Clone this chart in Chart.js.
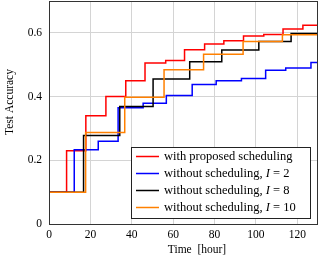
<!DOCTYPE html>
<html>
<head>
<meta charset="utf-8">
<script src="https://cdn.jsdelivr.net/npm/chart.js@4/dist/chart.umd.min.js"></script>
<style>
  html, body { margin: 0; padding: 0; background: #fff; }
  canvas { display: block; }
</style>
</head>
<body>
<canvas id="accChart" width="319" height="263"></canvas>
<script>
// step start times (hours) and accuracy reached at that time
const redTime = [0, 8.5, 17.8, 27.5, 37.1, 46.4, 56.4, 65.5, 75.2, 84.5, 94, 103.8, 113.1, 122.7, 130];
const redAcc = [0.1, 0.23, 0.34, 0.40, 0.45, 0.505, 0.513, 0.547, 0.565, 0.575, 0.59, 0.595, 0.612, 0.624, 0.624];

const blueTime = [0, 12.2, 23.8, 33.4, 45.5, 56.7, 69.2, 80.8, 93, 104.7, 114.4, 126.6, 130];
const blueAcc = [0.1, 0.233, 0.26, 0.365, 0.379, 0.403, 0.438, 0.45, 0.457, 0.483, 0.49, 0.507, 0.507];

const blackTime = [0, 16.7, 34.2, 50.3, 68, 83.5, 101.4, 117, 130];
const blackAcc = [0.1, 0.278, 0.369, 0.455, 0.509, 0.546, 0.573, 0.598, 0.598];

const orangeTime = [0, 17.7, 36.6, 55.6, 74.7, 93.8, 112.8, 130];
const orangeAcc = [0.1, 0.287, 0.398, 0.484, 0.533, 0.573, 0.594, 0.594];

const seriesLabels = [
    'with proposed scheduling',
    'without scheduling, I = 2',
    'without scheduling, I = 8',
    'without scheduling, I = 10'
];
const seriesColors = ['#ff0000', '#0000ff', '#000000', '#ff8000'];

const xTicks = [0, 20, 40, 60, 80, 100, 120];
const yTicks = [0, 0.2, 0.4, 0.6];

const serif = '"Liberation Serif", "Times New Roman", serif';

function toPoints(times, accs) {
    return times.map((t, i) => ({ x: t, y: accs[i] }));
}

function drawLabel(ctx, text, x, y) {
    // italic "I" like the math symbol in the original
    const parts = text.split(/(\bI\b)/);
    parts.forEach(p => {
        if (!p) return;
        ctx.font = (p === 'I' ? 'italic ' : '') + '12.5px ' + serif;
        ctx.fillText(p, x, y);
        x += ctx.measureText(p).width;
    });
}

function noPad(s) {
    s.paddingTop = 0;
    s.paddingBottom = 0;
    s.paddingLeft = 0;
    s.paddingRight = 0;
}

const framePlugin = {
    id: 'frame',
    afterDraw(chart) {
        const { ctx, chartArea: a } = chart;
        ctx.save();
        ctx.strokeStyle = '#333';
        ctx.lineWidth = 1;
        ctx.strokeRect(Math.round(a.left) + 0.5, Math.round(a.top) + 0.5, Math.round(a.right - a.left) - 1, Math.round(a.bottom - a.top));

        // axis titles
        ctx.fillStyle = '#000';
        ctx.font = '11.5px ' + serif;
        ctx.textAlign = 'center';
        ctx.textBaseline = 'middle';
        ctx.fillText('Time  [hour]', 197, 250);
        ctx.translate(10, 102);
        ctx.rotate(-Math.PI / 2);
        ctx.fillText('Test Accuracy', 0, 0);
        ctx.restore();

        // legend box
        ctx.save();
        ctx.fillStyle = '#fff';
        ctx.fillRect(131, 147, 180, 72);
        ctx.strokeStyle = '#222';
        ctx.strokeRect(131.5, 147.5, 179, 71);
        ctx.textAlign = 'left';
        ctx.textBaseline = 'middle';
        seriesLabels.forEach((lab, i) => {
            const y = 156.5 + i * 17;
            ctx.strokeStyle = seriesColors[i];
            ctx.lineWidth = 1.5;
            ctx.beginPath();
            ctx.moveTo(136, y);
            ctx.lineTo(159, y);
            ctx.stroke();
            ctx.fillStyle = '#000';
            drawLabel(ctx, lab, 164, y);
        });
        ctx.restore();
    }
};

const datasets = [
    [redTime, redAcc],
    [blueTime, blueAcc],
    [blackTime, blackAcc],
    [orangeTime, orangeAcc]
].map(([t, a], i) => ({
    label: seriesLabels[i],
    data: toPoints(t, a),
    borderColor: seriesColors[i],
    borderWidth: 1.5,
    stepped: 'before',
    pointRadius: 0,
    fill: false,
    order: 3 - i
}));

new Chart(document.getElementById('accChart'), {
    type: 'line',
    data: { datasets },
    options: {
        responsive: false,
        animation: false,
        devicePixelRatio: 1,
        layout: { padding: { top: 1, right: 1, left: 0, bottom: 0 } },
        plugins: {
            legend: { display: false },
            tooltip: { enabled: false }
        },
        scales: {
            x: {
                type: 'linear',
                min: 0,
                max: 130,
                afterFit: s => { s.height = 39; noPad(s); },
                afterBuildTicks: s => { s.ticks = xTicks.map(v => ({ value: v })); },
                border: { display: false },
                grid: { color: '#d4d4d4', drawTicks: false },
                ticks: {
                    color: '#000',
                    font: { family: serif, size: 11.5 },
                    padding: 4,
                    maxRotation: 0
                }
            },
            y: {
                min: 0,
                max: 0.7,
                afterFit: s => { s.width = 49; noPad(s); },
                afterBuildTicks: s => { s.ticks = yTicks.map(v => ({ value: v })); },
                border: { display: false },
                grid: { color: '#d4d4d4', drawTicks: false },
                ticks: {
                    color: '#000',
                    font: { family: serif, size: 11.5 },
                    padding: 7,
                    callback: v => v === 0 ? '0' : v.toFixed(1)
                }
            }
        }
    },
    plugins: [framePlugin]
});
</script>
</body>
</html>
